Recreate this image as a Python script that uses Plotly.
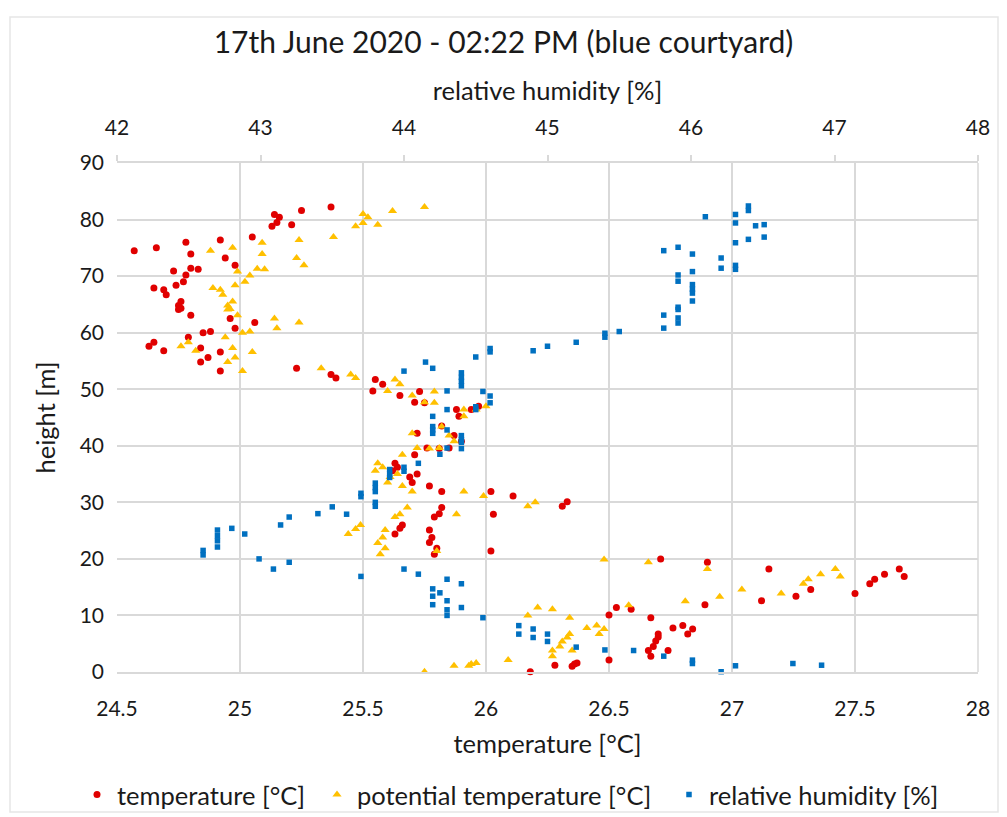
import plotly.graph_objects as go

# ---- data ----
temp_c = [25.37, 25.25, 25.14, 25.16, 25.15, 25.13, 25.21, 25.05, 24.92, 24.78, 24.66, 24.57, 24.80, 24.94, 24.98,
          24.80, 24.83, 24.73, 24.78, 24.77, 24.74, 24.65, 24.69, 24.70, 24.76, 24.75, 24.75, 24.76, 24.80, 24.96,
          25.06, 24.98, 24.85, 24.88, 24.79, 24.65, 24.63, 24.69, 24.84, 24.92, 24.87, 24.84, 24.92, 25.23, 25.37,
          25.39,
          25.55, 25.58, 25.54, 25.65, 25.73, 25.71, 25.75, 25.88, 25.89, 25.94, 25.97, 25.82, 25.72, 25.87, 25.90,
          25.76, 25.81, 25.85, 25.71, 25.63, 25.64, 25.62, 25.72, 25.69, 25.70, 25.77, 25.82, 26.02, 26.11, 26.31,
          26.33, 25.82, 25.81, 25.79, 26.03, 25.66, 25.65, 25.63, 25.77, 25.78, 25.77, 25.80, 25.79, 26.02,
          26.71, 26.90, 27.15, 27.12, 27.26, 27.32, 26.89, 26.50, 26.53, 26.59, 26.67, 26.76, 26.80, 26.84, 26.82,
          26.70, 26.70, 26.69, 26.68, 26.66, 26.67, 26.74, 26.50, 26.18, 26.28, 26.35, 26.37, 26.36,
          27.50, 27.56, 27.58, 27.62, 27.68, 27.70]
temp_h = [82.2, 81.6, 80.9, 80.4, 79.5, 78.8, 79.1, 76.9, 76.4, 76.0, 75.0, 74.5, 73.9, 73.2, 71.9,
          71.4, 71.2, 70.9, 70.2, 69.0, 68.4, 67.9, 67.6, 66.7, 65.5, 64.8, 64.1, 64.3, 63.1, 62.5,
          61.8, 60.8, 60.0, 60.2, 59.2, 58.3, 57.6, 56.8, 57.3, 56.6, 55.6, 54.8, 53.2, 53.7, 52.6,
          52.0,
          51.7, 50.9, 49.7, 48.9, 49.6, 47.7, 47.6, 46.4, 45.2, 46.4, 47.0, 43.5, 42.2, 41.8, 40.8,
          39.6, 39.5, 39.6, 38.4, 36.9, 36.2, 35.6, 35.0, 34.5, 33.5, 32.9, 31.9, 31.9, 31.1, 29.3,
          30.1, 29.1, 28.0, 27.4, 27.9, 26.0, 25.4, 24.4, 25.1, 23.8, 22.9, 21.9, 20.8, 21.4,
          20.0, 19.4, 18.2, 12.6, 13.4, 14.6, 11.9, 10.1, 11.4, 11.1, 9.6, 7.8, 8.2, 7.6, 6.7,
          6.7, 6.2, 5.5, 4.5, 3.8, 2.8, 3.8, 2.1, 0.05, 1.2, 1.0, 1.6, 1.4,
          13.9, 15.6, 16.4, 17.3, 18.2, 16.9]

pot_c = [25.75, 25.62, 25.50, 25.52, 25.50, 25.47, 25.56, 25.38, 25.24, 25.09, 24.97, 24.88, 25.09, 25.23, 25.26,
         25.07, 25.10, 24.99, 25.04, 25.02, 24.98, 24.89, 24.92, 24.93, 24.97, 24.95, 24.95, 24.96, 24.99, 25.14,
         25.24, 25.15, 25.01, 25.04, 24.94, 24.79, 24.76, 24.82, 24.97, 25.05, 24.98, 24.95, 25.01, 25.33, 25.45,
         25.47,
         25.63, 25.65, 25.60, 25.70, 25.79, 25.75, 25.79, 25.91, 25.91, 25.96, 26.00, 25.82, 25.70, 25.85, 25.87,
         25.72, 25.77, 25.81, 25.66, 25.56, 25.58, 25.55, 25.64, 25.61, 25.60, 25.66, 25.70, 25.91, 25.99, 26.17,
         26.20, 25.68, 25.65, 25.63, 25.88, 25.49, 25.47, 25.44, 25.59, 25.58, 25.56, 25.59, 25.57, 25.80,
         26.48, 26.66, 26.90, 26.81, 26.95, 27.04, 26.58, 26.17, 26.21, 26.27, 26.34, 26.41, 26.45, 26.48, 26.46,
         26.34, 26.33, 26.31, 26.30, 26.27, 26.27, 26.35, 26.09, 25.75, 25.87, 25.93, 25.96, 25.94,
         27.20, 27.29, 27.31, 27.36, 27.42, 27.44]
pot_h = [82.2, 81.5, 81.0, 80.4, 79.4, 78.8, 79.1, 76.9, 76.4, 75.9, 75.0, 74.5, 73.9, 73.2, 71.9,
         71.3, 71.2, 70.8, 70.1, 69.0, 68.4, 67.9, 67.6, 66.7, 65.5, 64.8, 64.1, 64.2, 63.1, 62.5,
         61.8, 60.8, 60.0, 60.2, 59.2, 58.3, 57.6, 56.8, 57.3, 56.6, 55.6, 54.8, 53.2, 53.7, 52.6,
         52.0,
         51.7, 50.9, 49.7, 48.9, 49.6, 47.7, 47.6, 46.4, 45.2, 46.4, 47.0, 43.4, 42.2, 41.8, 40.8,
         39.6, 39.5, 39.6, 38.4, 36.9, 36.2, 35.6, 35.0, 34.5, 33.5, 32.9, 31.9, 31.9, 31.1, 29.3,
         30.0, 29.1, 27.9, 27.4, 27.9, 26.0, 25.3, 24.4, 25.1, 23.8, 22.8, 21.9, 20.8, 21.4,
         19.9, 19.4, 18.2, 12.5, 13.3, 14.6, 11.8, 10.0, 11.4, 11.1, 9.6, 7.8, 8.2, 7.6, 6.7,
         6.7, 6.1, 5.4, 4.5, 3.8, 2.8, 3.8, 2.1, 0.05, 1.1, 1.1, 1.6, 1.4,
         13.9, 15.6, 16.4, 17.3, 18.2, 16.9]

rh_pct = [46.40, 46.40, 46.31, 46.10, 46.31, 46.45, 46.51, 46.51, 46.40, 46.31, 45.81, 45.91, 46.01, 46.21, 46.21,
          46.31, 46.31, 46.01, 45.91, 45.91, 46.01, 46.01, 46.01, 46.01, 45.91, 45.91, 45.81, 45.91, 45.91, 45.81,
          45.50, 45.40, 45.40,
          45.20, 45.00, 44.90, 44.60, 44.60, 44.50, 44.15, 44.20, 44.00, 44.40, 44.40, 44.40, 44.40, 44.30, 44.55,
          44.60, 44.60, 44.50, 44.50, 44.30, 44.20, 44.20, 44.20, 44.20, 44.30, 44.40, 44.40, 44.40, 44.30, 44.40,
          44.25, 44.10, 44.00, 44.00, 43.90, 43.90, 43.90, 43.80, 43.80, 43.80, 43.70, 43.70, 43.80, 43.80, 43.50,
          43.60,
          43.40, 43.20, 43.14, 42.89, 42.80, 42.70, 42.70, 42.70, 42.70, 42.60, 42.60, 42.99, 43.09, 43.20, 43.70,
          44.00, 44.10, 44.30, 44.40, 44.20, 44.25, 44.20, 44.30, 44.20, 44.40, 44.30, 44.30, 44.55, 44.80, 44.80,
          44.90, 44.90, 45.00, 45.00, 45.20, 45.40, 45.60, 45.81, 46.01, 46.01, 46.21, 46.31, 46.71, 46.91]
rh_h = [82.4, 81.6, 80.9, 80.5, 79.4, 78.9, 79.1, 76.9, 76.5, 75.9, 74.5, 75.1, 73.9, 73.2, 71.4,
        71.9, 71.2, 70.8, 70.2, 69.1, 68.5, 67.7, 67.0, 65.6, 64.5, 64.1, 63.1, 62.6, 61.7, 60.8,
        60.2, 59.9, 59.2,
        58.3, 57.6, 56.8, 57.2, 56.6, 55.7, 54.8, 53.7, 53.2, 52.9, 52.1, 51.4, 50.6, 49.7, 49.6,
        48.8, 47.6, 46.9, 46.4, 46.4, 45.2, 43.4, 42.8, 42.2, 42.8, 41.8, 41.1, 40.6, 39.6, 39.5,
        38.5, 36.9, 36.2, 35.5, 35.8, 35.0, 34.4, 33.4, 32.6, 31.9, 31.6, 31.0, 30.0, 29.3, 29.2,
        27.9,
        28.0, 27.4, 26.0, 24.4, 25.4, 25.1, 24.1, 23.2, 22.1, 21.5, 20.7, 20.0, 18.2, 19.4, 16.9,
        18.2, 17.3, 16.4, 15.6, 14.7, 14.0, 13.4, 12.6, 11.9, 11.4, 11.0, 10.0, 9.6, 8.2, 6.7,
        7.6, 6.1, 6.7, 5.4, 4.4, 3.9, 3.8, 2.8, 2.1, 1.5, 0.05, 1.1, 1.5, 1.2]

temp_ticks = [24.5, 25, 25.5, 26, 26.5, 27, 27.5, 28]
rh_ticks = [42, 43, 44, 45, 46, 47, 48]
height_ticks = [0, 10, 20, 30, 40, 50, 60, 70, 80, 90]

FONT = "Lato, Open Sans, sans-serif"
TXT = "#1a1a1a"
GRID = "#d9d9d9"
TICK_SIZE = 21
LABEL_SIZE = 25.5

# plot-area geometry in pixels (used to convert layout positions to paper units)
PL, PR, PT, PB = 117, 978, 163, 672
W, H = 1007, 817


def px_x(x):
    return (x - PL) / (PR - PL)


def px_y(y):
    return (PB - y) / (PB - PT)


fig = go.Figure()
fig.add_trace(go.Scatter(x=temp_c, y=temp_h, mode="markers", name="temperature [°C]", legend="legend",
                         marker=dict(symbol="circle", size=7, color="#E00000"), cliponaxis=False))
fig.add_trace(go.Scatter(x=pot_c, y=pot_h, mode="markers", name="potential temperature [°C]", legend="legend2",
                         marker=dict(symbol="triangle-up", size=8, color="#FFC000"), cliponaxis=False))
fig.add_trace(go.Scatter(x=rh_pct, y=rh_h, mode="markers", name="relative humidity [%]", xaxis="x2",
                         legend="legend3",
                         marker=dict(symbol="square", size=5.5, color="#0070C0"), cliponaxis=False))

leg_common = dict(orientation="h", y=px_y(795), yanchor="middle", xanchor="left",
                  font=dict(size=LABEL_SIZE), itemsizing="trace", itemwidth=30, bgcolor="rgba(0,0,0,0)")

fig.update_layout(
    width=W, height=H,
    margin=dict(l=PL, r=W - PR, t=PT, b=H - PB, autoexpand=False),
    paper_bgcolor="white", plot_bgcolor="white",
    font=dict(family=FONT, size=TICK_SIZE, color=TXT),
    title=dict(text="17th June 2020 - 02:22 PM (blue courtyard)", x=0.5, xanchor="center",
               y=1 - 42 / H, yanchor="middle", font=dict(size=30, color=TXT)),
    xaxis=dict(range=[24.5, 28], tickvals=temp_ticks, ticktext=[str(v) for v in temp_ticks],
               showgrid=True, gridcolor=GRID, gridwidth=1.5, zeroline=False,
               showline=True, linecolor=GRID, linewidth=1.5, mirror=False, automargin=False,
               ticks="", ticklabelstandoff=17,
               title=dict(text="temperature [°C]", standoff=16, font=dict(size=LABEL_SIZE))),
    xaxis2=dict(range=[42, 48], tickvals=rh_ticks, overlaying="x", side="top", automargin=False,
                showgrid=False, zeroline=False, showline=True, linecolor=GRID, linewidth=1.5,
                ticks="outside", ticklen=6, tickcolor=GRID, tickwidth=1.5, ticklabelstandoff=12,
                title=dict(text="relative humidity [%]", standoff=6, font=dict(size=LABEL_SIZE))),
    yaxis=dict(range=[0, 90], tickvals=height_ticks, showgrid=True, gridcolor=GRID, gridwidth=1.5,
               zeroline=False, showline=False, ticks="", ticklabelstandoff=12, automargin=False,
               title=dict(text="height [m]", standoff=16, font=dict(size=LABEL_SIZE))),
    legend=dict(x=px_x(98 - 21), **leg_common),
    legend2=dict(x=px_x(338 - 21), **leg_common),
    legend3=dict(x=px_x(690 - 21), **leg_common),
    showlegend=True,
)

# right border of plot area (28 °C gridline)
fig.add_shape(type="line", xref="paper", yref="paper", x0=1, x1=1, y0=0, y1=1,
              line=dict(color=GRID, width=1.5), layer="below")
# outer chart border
fig.add_shape(type="rect", xref="paper", yref="paper",
              x0=px_x(10), x1=px_x(998), y0=px_y(812), y1=px_y(17),
              line=dict(color="#e6e6e6", width=1.5), layer="below")

fig.write_html("out.html")
